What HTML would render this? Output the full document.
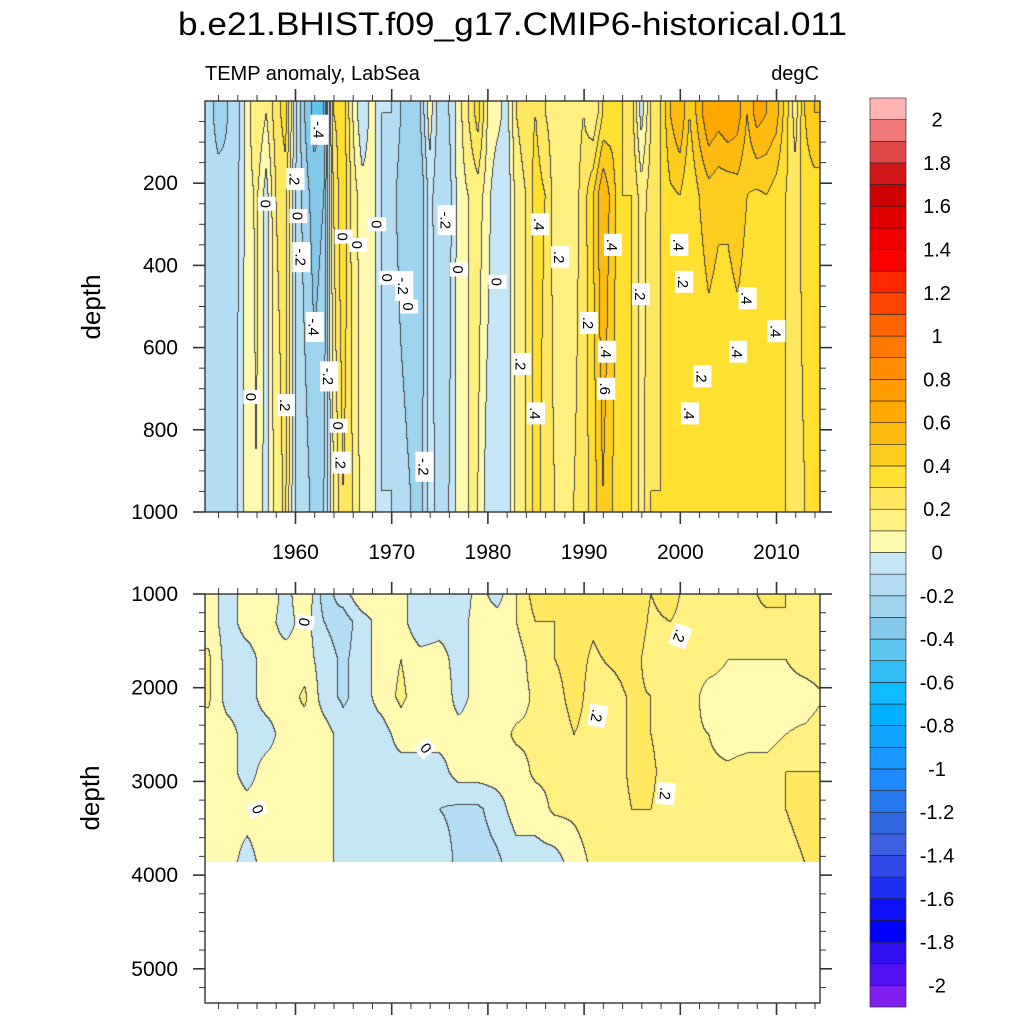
<!DOCTYPE html>
<html><head><meta charset="utf-8">
<style>
html,body{margin:0;padding:0;background:#fff;}
#wrap{position:relative;width:1024px;height:1024px;overflow:hidden;}
canvas{position:absolute;}
svg{position:absolute;left:0;top:0;}
text{font-family:"Liberation Sans",sans-serif;fill:#000;}
</style></head>
<body>
<div id="wrap">
<canvas id="cTop" width="615" height="411" style="left:205px;top:101px"></canvas>
<canvas id="cBot" width="615" height="268" style="left:205px;top:594px"></canvas>
<svg id="svg" width="1024" height="1024">
<text x="178" y="35" font-size="32" textLength="669" lengthAdjust="spacingAndGlyphs">b.e21.BHIST.f09_g17.CMIP6-historical.011</text>
<text x="205" y="80" font-size="20">TEMP anomaly, LabSea</text>
<text x="819" y="80" font-size="20" text-anchor="end">degC</text>
<text x="0" y="0" font-size="26" text-anchor="middle" transform="translate(100,307) rotate(-90)">depth</text>
<text x="0" y="0" font-size="26" text-anchor="middle" transform="translate(99,798) rotate(-90)">depth</text>
<g id="axes"></g>
<g id="labels"></g>
<g id="cbar"></g>
</svg>
</div>
<script>
// ---- data ----
const levels = [-2,-1.9,-1.8,-1.7,-1.6,-1.5,-1.4,-1.3,-1.2,-1.1,-1,-0.9,-0.8,-0.7,-0.6,-0.5,-0.4,-0.3,-0.2,-0.1,0,0.1,0.2,0.3,0.4,0.5,0.6,0.7,0.8,0.9,1,1.1,1.2,1.3,1.4,1.5,1.6,1.7,1.8,1.9,2];
const colors = ["#8020f0","#5010f0","#3010f0","#0000ff","#1010f8","#2030f0","#3048e8","#3c60e0","#3068e0","#2878f0","#2088ff","#1898ff","#10a4ff","#00b0ff","#10bcff","#32bcf4","#5ec4f0","#84c8ec","#9ed4ee","#b4dcf2","#c6e6f6","#fffab0","#fff080","#ffe860","#ffe030","#ffcc20","#ffbc10","#ffa800","#ff9c00","#ff8c00","#ff7800","#ff6400","#ff4400","#ff2800","#ff0000","#f00000","#e00000","#cc0000","#d01818","#e04848","#f07878","#ffb3b3"];
const cbarLabels = ["2","1.8","1.6","1.4","1.2","1","0.8","0.6","0.4","0.2","0","-0.2","-0.4","-0.6","-0.8","-1","-1.2","-1.4","-1.6","-1.8","-2"];

const topYears = [1951,1952,1953,1954,1955,1956,1957,1958,1959,1960,1961,1962,1963,1964,1965,1966,1967,1968,1969,1970,1971,1972,1973,1974,1975,1976,1977,1978,1979,1980,1981,1982,1983,1984,1985,1986,1987,1988,1989,1990,1991,1992,1993,1994,1995,1996,1997,1998,1999,2000,2001,2002,2003,2004,2005,2006,2007,2008,2009,2010,2011,2012,2013,2014];
const topDepths = [30,230,950];
const topSurf = [-0.15,-0.25,-0.2,-0.15,0.05,0.2,0.1,0.25,0.35,-0.05,-0.3,-0.45,-0.4,0.3,0.35,0.1,-0.1,0.05,-0.1,-0.1,-0.2,-0.25,-0.2,0.05,-0.15,-0.1,0.05,0.2,0.35,0.1,0.05,-0.05,0.2,0.25,0.3,0.2,0.15,0.1,0.15,0.2,0.1,0.3,0.35,0.3,0.25,-0.05,0.2,0.3,0.5,0.6,0.4,0.55,0.7,0.65,0.7,0.65,0.5,0.65,0.6,0.55,0.35,0.15,0.4,0.5];
const topMid = [-0.15,-0.15,-0.18,-0.12,0.05,0.12,-0.05,0.2,0.25,-0.1,-0.25,-0.35,-0.3,0.2,0.4,0.15,0.05,0.05,-0.1,-0.15,-0.25,-0.3,-0.3,-0.05,-0.2,-0.15,0.05,0.1,0.15,0.05,-0.1,-0.1,0.15,0.2,0.35,0.3,0.15,0.1,0.15,0.25,0.4,0.6,0.45,0.3,0.3,0.15,0.25,0.3,0.38,0.4,0.3,0.4,0.45,0.42,0.42,0.45,0.4,0.38,0.4,0.35,0.3,0.25,0.35,0.35];
const topDeep = [-0.12,-0.15,-0.15,-0.1,0.05,0.1,-0.05,0.15,0.22,-0.1,-0.15,-0.25,-0.2,0.1,0.3,0.2,0.05,0.05,-0.1,-0.1,-0.15,-0.2,-0.25,-0.05,-0.15,-0.1,0.05,0.1,0.1,-0.05,-0.1,-0.1,0.15,0.2,0.35,0.25,0.2,0.15,0.2,0.25,0.35,0.5,0.4,0.3,0.3,0.15,0.3,0.3,0.3,0.3,0.3,0.3,0.3,0.3,0.3,0.3,0.3,0.3,0.3,0.3,0.3,0.25,0.3,0.3];

const botYears = [1951,1953,1955,1957,1959,1961,1963,1965,1967,1969,1971,1973,1975,1977,1979,1981,1983,1985,1987,1989,1991,1993,1995,1997,1999,2001,2003,2005,2007,2009,2011,2013,2015];
const botDepths = [1000,1300,1700,2100,2500,2900,3300,3870];
const bot1000 = [0.05,-0.05,0.05,0.1,-0.05,0.1,-0.15,-0.05,0.1,0.05,0.05,-0.1,-0.05,-0.1,0.05,-0.05,0.1,0.25,0.25,0.2,0.25,0.3,0.28,0.2,0.25,0.15,0.15,0.2,0.15,0.25,0.2,0.15,0.2];
const bot1300 = [0.05,-0.05,0.05,0.05,-0.05,0.05,-0.1,-0.15,-0.05,0.05,0.05,-0.1,-0.05,-0.05,0.05,0.05,0.1,0.2,0.2,0.25,0.22,0.28,0.28,0.18,0.2,0.15,0.15,0.15,0.15,0.15,0.2,0.15,0.15];
const bot1700 = [0.12,-0.05,-0.05,0.05,0.05,0.05,-0.05,-0.12,-0.05,0.05,0.1,0.05,0.05,-0.05,0.05,0.05,0.05,0.15,0.2,0.25,0.18,0.22,0.25,0.15,0.12,0.15,0.15,0.1,0.1,0.1,0.1,0.15,0.15];
const bot2100 = [0.12,-0.05,-0.05,0.05,0.05,0.12,-0.05,-0.12,-0.05,0.05,0.12,0.05,0.1,-0.05,0.05,0.05,0.05,0.12,0.15,0.25,0.15,0.15,0.22,0.2,0.1,0.15,0.05,0.05,0.05,0.05,0.05,0.05,0.1];
const bot2500 = [0.05,0.05,-0.05,-0.05,0.05,0.05,0.05,-0.05,-0.05,-0.05,0.05,0.05,0.05,0.05,0.05,0.05,0.12,0.12,0.12,0.2,0.15,0.15,0.22,0.2,0.15,0.12,0.1,0.05,0.05,0.05,0.1,0.12,0.15];
const bot2900 = [0.05,0.05,-0.05,0.05,0.05,0.05,0.05,-0.05,-0.05,-0.05,-0.05,-0.05,-0.05,0.05,0.05,0.05,0.05,0.12,0.12,0.15,0.12,0.15,0.22,0.22,0.15,0.15,0.12,0.12,0.15,0.15,0.2,0.2,0.2];
const bot3300 = [0.05,0.05,0.05,0.05,0.05,0.05,0.05,-0.05,-0.05,-0.05,-0.05,-0.05,-0.1,-0.12,-0.12,-0.05,0.05,0.05,0.12,0.12,0.15,0.15,0.2,0.2,0.15,0.15,0.15,0.15,0.15,0.2,0.2,0.25,0.25];
const bot3870 = [0.05,0.05,-0.05,0.05,0.05,0.05,0.05,-0.05,-0.05,-0.05,-0.05,-0.05,-0.05,-0.12,-0.15,-0.12,-0.05,-0.05,-0.05,0.05,0.12,0.12,0.12,0.12,0.12,0.12,0.12,0.12,0.12,0.15,0.15,0.2,0.25];

const xTickYears = [1960,1970,1980,1990,2000,2010];
const topYTicks = [200,400,600,800,1000];
const botYTicks = [1000,2000,3000,4000,5000];

// ---- axis functions ----
const X0 = 205, X1 = 820;
function xOf(yr){ return 295.5 + (yr-1960)*9.62; }
function yrOfX(px){ return 1960 + (px-295.5)/9.62; }
const TOP_Y0 = 101, TOP_Y1 = 512;
function yTop(d){ return 101 + d*0.411; }
function dTop(py){ return (py-101)/0.411; }
function yBot(d){ return 594 + (d-1000)*0.0937; }
function dBot(py){ return 1000 + (py-594)/0.0937; }

function lerpArr(xs, ys, v){
  if (v<=xs[0]) return ys[0];
  if (v>=xs[xs.length-1]) return ys[ys.length-1];
  for (let i=0;i<xs.length-1;i++){
    if (v<=xs[i+1]){ const t=(v-xs[i])/(xs[i+1]-xs[i]); return ys[i]+(ys[i+1]-ys[i])*t; }
  }
}
function levelIdx(v){ let k=0; while(k<levels.length && v>=levels[k]) k++; return k; }
function hex(c){ return [parseInt(c.substr(1,2),16),parseInt(c.substr(3,2),16),parseInt(c.substr(5,2),16)]; }
const rgb = colors.map(hex);

function drawField(canvas, valueAt, yToDepth, top){
  const w=canvas.width, h=canvas.height, ctx=canvas.getContext('2d');
  const img=ctx.createImageData(w,h);
  const idx=new Int16Array(w*h);
  for(let j=0;j<h;j++){ const d=yToDepth(top+j+0.5);
    for(let i=0;i<w;i++){ idx[j*w+i]=levelIdx(valueAt(yrOfX(X0+i+0.5), d)); } }
  for(let j=0;j<h;j++) for(let i=0;i<w;i++){
    const k=idx[j*w+i]; let c=rgb[k];
    const edge=(i<w-1 && idx[j*w+i+1]!==k)||(j<h-1 && idx[(j+1)*w+i]!==k);
    if(edge) c=[70,70,70];
    const p=(j*w+i)*4; img.data[p]=c[0]; img.data[p+1]=c[1]; img.data[p+2]=c[2]; img.data[p+3]=255;
  }
  ctx.putImageData(img,0,0);
}
const topCols=[topSurf,topMid,topDeep];
drawField(document.getElementById('cTop'), function(yr,d){
  const prof=topCols.map(a=>lerpArr(topYears,a,yr));
  return lerpArr(topDepths,prof,d);
}, dTop, TOP_Y0);
const botRows=[bot1000,bot1300,bot1700,bot2100,bot2500,bot2900,bot3300,bot3870];
drawField(document.getElementById('cBot'), function(yr,d){
  const prof=botRows.map(a=>lerpArr(botYears,a,yr));
  return lerpArr(botDepths,prof,d);
}, dBot, 594);

// ---- axes ----
const NS='http://www.w3.org/2000/svg';
const axes=document.getElementById('axes');
function line(x1,y1,x2,y2,w,name){ const l=document.createElementNS(NS,'line');
  l.setAttribute('x1',x1);l.setAttribute('y1',y1);l.setAttribute('x2',x2);l.setAttribute('y2',y2);
  l.setAttribute('stroke','#333');l.setAttribute('stroke-width',w);
  
  
  axes.appendChild(l); }
function txt(x,y,s,anchor,size,name){ const t=document.createElementNS(NS,'text');
  t.setAttribute('x',x);t.setAttribute('y',y);t.setAttribute('text-anchor',anchor);t.setAttribute('font-size',size);t.textContent=s;
  
  
  axes.appendChild(t); return t; }
function frame(y0,y1,name){ const r=document.createElementNS(NS,'rect');
  r.setAttribute('x',X0);r.setAttribute('y',y0);r.setAttribute('width',X1-X0);r.setAttribute('height',y1-y0);
  r.setAttribute('fill','none');r.setAttribute('stroke','#333');r.setAttribute('stroke-width','1.4');
  
  
  axes.appendChild(r); }
function xTicks(y0,y1){
  for(let yr=1952; yr<=2014; yr+=2){ const x=xOf(yr); if(x<X0||x>X1) continue;
    const major = yr%10===0; const L= major?12:6;
    line(x,y0,x,y0-L,major?1.6:1,'x-tick'); line(x,y1,x,y1+L,major?1.6:1,'x-tick'); }
}
// top panel
frame(TOP_Y0,TOP_Y1,'upper-plot-frame');
xTicks(TOP_Y0,TOP_Y1);
for(let d=50; d<=1000; d+=50){ const y=yTop(d); const major=d%200===0; const L=major?12:6;
  line(X0,y,X0-L,y,major?1.6:1,'y-tick'); line(X1,y,X1+L,y,major?1.6:1,'y-tick'); }
topYTicks.forEach(d=>txt(178,yTop(d)+7,String(d),'end',21,'upper-y-tick-label'));
xTickYears.forEach(yr=>txt(xOf(yr),559,String(yr),'middle',21,'x-tick-label'));
// bottom panel
frame(594,1003,'lower-plot-frame');
xTicks(594,1003);
for(let d=1000; d<=5400; d+=200){ const y=yBot(d); if(y>1003) continue; const major=d%1000===0; const L=major?12:6;
  line(X0,y,X0-L,y,major?1.6:1,'y-tick'); line(X1,y,X1+L,y,major?1.6:1,'y-tick'); }
botYTicks.forEach(d=>txt(178,yBot(d)+7,String(d),'end',21,'lower-y-tick-label'));

// ---- contour labels ----
const lab=document.getElementById('labels');
const topLabelText=["-.4",".2","0","0","-.2","-.4","0",".2","-.2","0",".2","0","0","0","-.2","0","0","-.2","-.2","0","0",".4",".2",".4",".2",".4",".6",".2",".2",".4",".2",".4",".4",".4",".4",".4",".2"];
const topLabelYr=[1962.5,1960,1957,1960.3,1960.6,1962,1955.5,1959,1963.5,1964.5,1964.8,1965,1966.5,1968.5,1971.3,1971.8,1969.6,1973.4,1975.7,1977,1981,1985.4,1987.5,1993,1983.5,1992.4,1992.3,1990.5,1995.9,1999.9,2000.4,2001,1985,2007,2006,2010,2002.3];
const topLabelD=[70,190,250,280,380,550,720,740,670,790,880,330,350,300,450,500,430,890,290,410,440,300,380,350,640,610,700,540,470,350,440,760,760,480,610,560,670];
function addLabel(x,y,s,rot){ const g=document.createElementNS(NS,'g');
  g.setAttribute('transform','translate('+x+','+y+') rotate('+rot+')');
  
  
  const r=document.createElementNS(NS,'rect'); const wd=s.length*8+6;
  r.setAttribute('x',-wd/2);r.setAttribute('y',-9);r.setAttribute('width',wd);r.setAttribute('height',18);r.setAttribute('fill','#fff');
  const t=document.createElementNS(NS,'text'); t.setAttribute('x',0);t.setAttribute('y',6);t.setAttribute('text-anchor','middle');t.setAttribute('font-size',15);t.textContent=s;
  g.appendChild(r); g.appendChild(t); lab.appendChild(g); }
topLabelText.forEach((s,i)=>addLabel(xOf(topLabelYr[i]),yTop(topLabelD[i]),s,90));
const botLabelText=["0","0","0",".2",".2",".2"];
const botLabelYr=[1961,1956,1973.5,1991.4,2000,1998.5];
const botLabelD=[1300,3300,2650,2300,1450,3130];
const botLabelRot=[100,-110,-130,100,110,95];
botLabelText.forEach((s,i)=>addLabel(xOf(botLabelYr[i]),yBot(botLabelD[i]),s,botLabelRot[i]));

// ---- colorbar ----
const cb=document.getElementById('cbar');
const CB_TOP=98, CB_BOT=1007, nBox=colors.length, bh=(CB_BOT-CB_TOP)/nBox;
for(let k=0;k<nBox;k++){ const r=document.createElementNS(NS,'rect');
  const y=CB_BOT-(k+1)*bh;
  r.setAttribute('x',870);r.setAttribute('y',y);r.setAttribute('width',36);r.setAttribute('height',bh);
  r.setAttribute('fill',colors[k]);r.setAttribute('stroke','#222');r.setAttribute('stroke-width','0.6');
  
  
  cb.appendChild(r); }
cbarLabels.forEach((s,i)=>{ const t=document.createElementNS(NS,'text');
  const y=CB_TOP+bh*(1+2*i);
  t.setAttribute('x',937);t.setAttribute('y',y+7);t.setAttribute('text-anchor','middle');t.setAttribute('font-size',20);t.textContent=s;
  
  
  cb.appendChild(t); });
</script>
</body></html>
